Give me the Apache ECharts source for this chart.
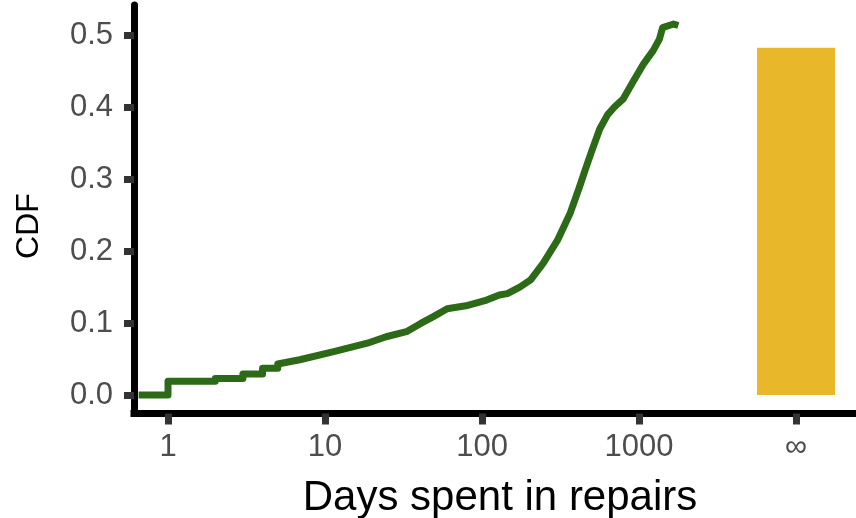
<!DOCTYPE html>
<html>
<head>
<meta charset="utf-8">
<script src="https://cdn.jsdelivr.net/npm/echarts@6/dist/echarts.min.js"></script>
<style>
html,body{margin:0;padding:0;background:#fff;}
#chart{width:856px;height:518px;}
</style>
</head>
<body>
<div id="chart"></div>
<script>
// ---- data ----
const days = [0.65, 1, 1, 2, 2, 3, 3, 4, 4, 5, 5, 6.9, 11.2, 18.6, 24.5, 33, 40.7, 49, 60, 79, 107, 129, 145, 174, 204, 245, 302, 363, 417, 457, 501, 562, 631, 700, 794, 912, 1072, 1230, 1349, 1413, 1660, 1780];
const cdf = [0, 0, 0.019, 0.019, 0.023, 0.023, 0.029, 0.029, 0.037, 0.037, 0.043, 0.049, 0.060, 0.072, 0.081, 0.088, 0.0995, 0.109, 0.120, 0.124, 0.132, 0.139, 0.141, 0.150, 0.160, 0.183, 0.215, 0.252, 0.289, 0.315, 0.340, 0.370, 0.390, 0.401, 0.412, 0.435, 0.461, 0.479, 0.495, 0.511, 0.516, 0.514];
const neverRepairedDays = 10000;      // plotted at the "∞" position
const neverRepairedShare = 0.483;
const xTickDays = [1, 10, 100, 1000, 10000];
const xTickLabels = ['1', '10', '100', '1000', '∞'];
const yTicks = [0, 0.1, 0.2, 0.3, 0.4, 0.5];
const xTitle = 'Days spent in repairs';
const yTitle = 'CDF';

// ---- chart ----
const font = 'Liberation Sans, Arial, sans-serif';
const lineData = days.map((d, i) => [Math.log10(d), cdf[i]]);
const xTickPos = xTickDays.map(d => Math.log10(d));
const labelMap = {};
xTickPos.forEach((p, i) => { labelMap[p.toFixed(3)] = xTickLabels[i]; });

const chart = echarts.init(document.getElementById('chart'), null, {renderer: 'canvas'});
chart.setOption({
  backgroundColor: '#ffffff',
  animation: false,
  grid: {left: 134, right: 0, top: 5, bottom: 104.5, containLabel: false, outerBoundsMode: 'none'},
  xAxis: {
    type: 'value',
    min: -0.2166,
    max: 4.382,
    splitLine: {show: false},
    axisLine: {show: true, onZero: false, lineStyle: {color: '#000', width: 7, cap: 'square'}},
    axisTick: {show: true, length: 11, customValues: xTickPos, lineStyle: {color: '#333', width: 7}},
    axisLabel: {
      show: true, margin: 18, customValues: xTickPos,
      fontSize: 31, color: '#4D4D4D', fontFamily: font,
      formatter: v => labelMap[Number(v).toFixed(3)] || ''
    },
    name: xTitle,
    nameLocation: 'middle',
    nameGap: 64,
    nameTextStyle: {fontSize: 42, color: '#000', fontFamily: font, padding: [0, 0, 0, 10]}
  },
  yAxis: {
    type: 'value',
    min: -0.0258,
    max: 0.5425,
    splitLine: {show: false},
    axisLine: {show: true, onZero: false, lineStyle: {color: '#000', width: 7}},
    axisTick: {show: true, length: 10, customValues: yTicks, lineStyle: {color: '#333', width: 7}},
    axisLabel: {
      show: true, margin: 21, customValues: yTicks,
      fontSize: 31, color: '#4D4D4D', fontFamily: font,
      formatter: v => Number(v).toFixed(1)
    }
  },
  graphic: [{
    type: 'text',
    x: 29, y: 226,
    rotation: Math.PI / 2,
    style: {text: yTitle, fontSize: 32, fill: '#000', fontFamily: font, align: 'center', verticalAlign: 'middle'}
  }],
  series: [
    {
      type: 'bar',
      data: [[Math.log10(neverRepairedDays), neverRepairedShare]],
      barWidth: 78,
      itemStyle: {color: '#E9B72A'},
      z: 2
    },
    {
      type: 'line',
      data: lineData,
      showSymbol: false,
      symbol: 'none',
      smooth: false,
      lineStyle: {color: '#2D6A18', width: 7, join: 'round', cap: 'butt'},
      z: 3
    }
  ]
});
</script>
</body>
</html>
